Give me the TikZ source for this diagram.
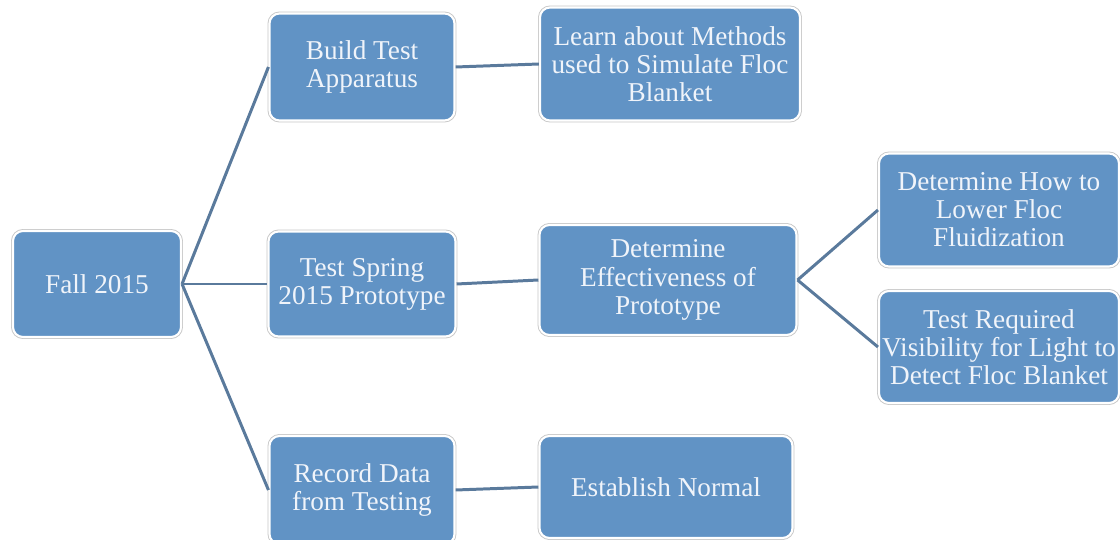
\documentclass[tikz,border=0pt]{standalone}
\usepackage{fontspec}
\setmainfont{Liberation Serif}
\definecolor{boxblue}{RGB}{97,147,197}
\definecolor{linkblue}{RGB}{90,122,156}
\definecolor{textwhite}{RGB}{240,244,250}
\begin{document}
\begin{tikzpicture}[x=0.02cm,y=-0.02cm,
  every node/.style={font=\fontsize{15.5}{16}\selectfont,text=textwhite},
  plan/.style={rectangle,rounded corners=0.2cm,fill=boxblue,align=center,
    draw=white,line width=1.2pt,preaction={draw=black!22,line width=2.2pt},
    inner sep=0pt},
  link/.style={draw=linkblue,line width=1.7pt}]
  \useasboundingbox (0,0) rectangle (1120,540);
  % tree of tasks, one column per level
  \node [plan,minimum width=168*0.02cm,minimum height=106*0.02cm] (fall) at (97,284) {Fall 2015};
  \node [plan,minimum width=185*0.02cm,minimum height=107*0.02cm] (build) at (362,67) {Build Test\\Apparatus};
  \node [plan,minimum width=187*0.02cm,minimum height=105*0.02cm] (spring) at (362,284) {Test Spring\\2015 Prototype};
  \node [plan,minimum width=185*0.02cm,minimum height=108*0.02cm] (record) at (362,490) {Record Data\\from Testing};
  \node [plan,minimum width=260*0.02cm,minimum height=113*0.02cm] (learn) at (670,64) {Learn about Methods\\used to Simulate Floc\\Blanket};
  \node [plan,minimum width=257*0.02cm,minimum height=110*0.02cm] (effect) at (668,280) {Determine\\Effectiveness of\\Prototype};
  \node [plan,minimum width=253*0.02cm,minimum height=102*0.02cm] (normal) at (666,487) {Establish Normal};
  \node [plan,minimum width=240*0.02cm,minimum height=113*0.02cm] (lower) at (999,210) {Determine How to\\Lower Floc\\Fluidization};
  \node [plan,minimum width=240*0.02cm,minimum height=112*0.02cm] (visib) at (999,347) {Test Required\\Visibility for Light to\\Detect Floc Blanket};
  % connectors
  \draw [link] (fall.east) -- (build.west);
  \draw [link] (fall.east) -- (spring.west);
  \draw [link] (fall.east) -- (record.west);
  \draw [link] (build.east) -- (learn.west);
  \draw [link] (spring.east) -- (effect.west);
  \draw [link] (record.east) -- (normal.west);
  \draw [link] (effect.east) -- (lower.west);
  \draw [link] (effect.east) -- (visib.west);
\end{tikzpicture}
\end{document}
